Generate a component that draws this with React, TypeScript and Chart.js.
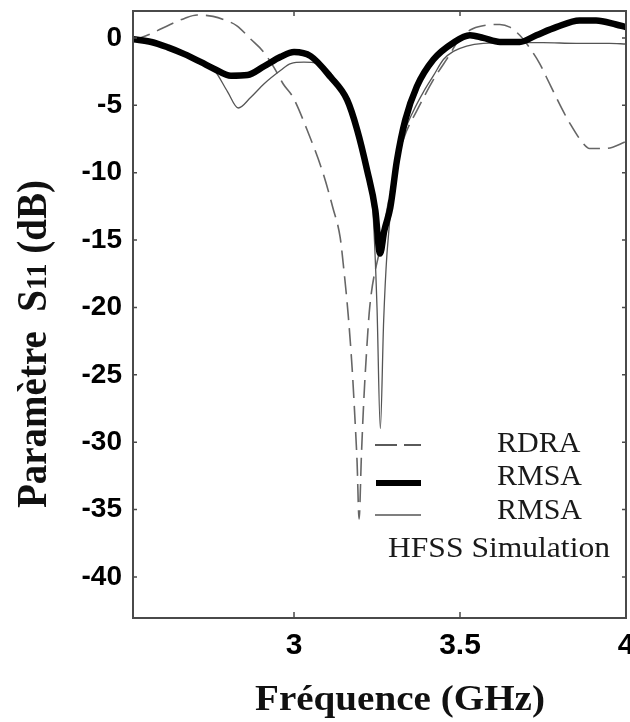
import React, { useEffect, useRef } from "react";
import { Chart, registerables } from "chart.js";

Chart.register(...registerables);

// ---- Data ----
const rmsaFreq = [2.515, 2.57, 2.62, 2.67, 2.72, 2.76, 2.81, 2.86, 2.91, 2.96, 3.0, 3.05, 3.11, 3.16, 3.19, 3.22, 3.245, 3.259, 3.272, 3.29, 3.31, 3.335, 3.37, 3.42, 3.48, 3.53, 3.57, 3.62, 3.68, 3.73, 3.79, 3.86, 3.91, 3.97, 4.0];
const rmsaS11 = [-0.1, -0.3, -0.7, -1.2, -1.8, -2.3, -2.8, -2.75, -2.1, -1.4, -1.05, -1.35, -2.9, -4.6, -6.8, -9.8, -12.8, -16.0, -14.3, -12.6, -9.1, -6.1, -3.6, -1.6, -0.35, 0.2, 0.0, -0.3, -0.3, 0.2, 0.8, 1.3, 1.3, 1.0, 0.8];

const hfssFreq = [2.515, 2.57, 2.62, 2.67, 2.72, 2.76, 2.8, 2.832, 2.87, 2.91, 2.96, 2.99, 3.03, 3.07, 3.11, 3.15, 3.19, 3.22, 3.238, 3.25, 3.26, 3.27, 3.28, 3.3, 3.33, 3.36, 3.39, 3.42, 3.45, 3.48, 3.52, 3.57, 3.65, 3.75, 3.85, 3.95, 4.0];
const hfssS11 = [-0.1, -0.3, -0.7, -1.2, -1.8, -2.4, -4.0, -5.2, -4.4, -3.4, -2.4, -1.9, -1.8, -1.9, -2.6, -4.2, -6.8, -9.8, -13, -20, -29, -21, -16, -11, -7.2, -5.4, -4.0, -2.8, -1.6, -1.0, -0.6, -0.4, -0.35, -0.35, -0.4, -0.4, -0.45];

const rdraFreq = [2.515, 2.572, 2.627, 2.67, 2.708, 2.756, 2.79, 2.828, 2.87, 2.907, 2.94, 2.967, 2.997, 3.039, 3.087, 3.117, 3.139, 3.148, 3.163, 3.175, 3.183, 3.19, 3.196, 3.203, 3.21, 3.218, 3.228, 3.26, 3.29, 3.33, 3.37, 3.42, 3.47, 3.5, 3.54, 3.58, 3.62, 3.65, 3.68, 3.7, 3.74, 3.76, 3.81, 3.83, 3.87, 3.89, 3.94, 4.0];
const rdraS11 = [-0.2, 0.35, 1.0, 1.45, 1.7, 1.6, 1.35, 0.9, -0.1, -1.0, -2.2, -3.4, -4.4, -6.8, -10, -12.6, -14.8, -16.7, -20.5, -24.5, -28, -31.5, -35.7, -31, -27, -23.5, -20, -15.5, -11.5, -7.5, -5.4, -3.1, -1.2, 0.0, 0.7, 0.95, 1.0, 0.8, 0.2, -0.4, -1.9, -2.9, -5.4, -6.3, -7.8, -8.2, -8.2, -7.7];

const xTicks = [3, 3.5, 4];
const yTicks = [0, -5, -10, -15, -20, -25, -30, -35, -40];
const legendLabels = ["RDRA", "RMSA", "RMSA"];
const legendNote = "HFSS Simulation";
const xTitle = "Fréquence (GHz)";
const yTitleParts = ["Paramètre  S", "11", " (dB)"];

const pts = (xs: number[], ys: number[]) => xs.map((x, i) => ({ x, y: ys[i] }));

export default function App() {
  const ref = useRef<HTMLCanvasElement>(null);

  useEffect(() => {
    const canvas = ref.current!;

    const decor = {
      id: "decor",
      afterDatasetsDraw(chart: any) {
        const ctx = chart.ctx as CanvasRenderingContext2D;
        const a = chart.chartArea;
        const xs = chart.scales.x;
        const ys = chart.scales.y;
        ctx.save();
        ctx.strokeStyle = "#4a4a4a";
        ctx.lineWidth = 2;
        ctx.strokeRect(a.left, a.top, a.right - a.left, a.bottom - a.top);
        ctx.lineWidth = 1.5;
        ctx.beginPath();
        yTicks.forEach((v) => {
          const p = ys.getPixelForValue(v);
          ctx.moveTo(a.left, p);
          ctx.lineTo(a.left + 4, p);
          ctx.moveTo(a.right, p);
          ctx.lineTo(a.right - 4, p);
        });
        xTicks.forEach((v) => {
          const p = xs.getPixelForValue(v);
          ctx.moveTo(p, a.bottom);
          ctx.lineTo(p, a.bottom - 6);
          ctx.moveTo(p, a.top);
          ctx.lineTo(p, a.top + 5);
        });
        ctx.stroke();

        // legend
        const lx0 = a.right - 251;
        const lx1 = a.right - 205;
        const rows = [a.bottom - 173, a.bottom - 135, a.bottom - 103];
        ctx.strokeStyle = "#5a5a5a";
        ctx.lineWidth = 2;
        ctx.setLineDash([22, 7]);
        ctx.beginPath();
        ctx.moveTo(lx0, rows[0]);
        ctx.lineTo(lx1, rows[0]);
        ctx.stroke();
        ctx.setLineDash([]);
        ctx.strokeStyle = "#000";
        ctx.lineWidth = 6;
        ctx.beginPath();
        ctx.moveTo(lx0 + 1, rows[1]);
        ctx.lineTo(lx1, rows[1]);
        ctx.stroke();
        ctx.strokeStyle = "#555";
        ctx.lineWidth = 1.5;
        ctx.beginPath();
        ctx.moveTo(lx0, rows[2]);
        ctx.lineTo(lx1, rows[2]);
        ctx.stroke();

        ctx.fillStyle = "#1a1a1a";
        ctx.font = "30px 'Liberation Serif'";
        ctx.textAlign = "left";
        ctx.textBaseline = "alphabetic";
        const bases = [a.bottom - 166, a.bottom - 133, a.bottom - 99];
        legendLabels.forEach((t, i) => ctx.fillText(t, a.right - 129, bases[i]));
        ctx.save();
        ctx.translate(a.right - 238, a.bottom - 61);
        const nw = ctx.measureText(legendNote).width;
        ctx.scale(222 / nw, 1);
        ctx.fillText(legendNote, 0, 0);
        ctx.restore();
        ctx.restore();
      },
      afterDraw(chart: any) {
        const ctx = chart.ctx as CanvasRenderingContext2D;
        ctx.save();
        ctx.fillStyle = "#111";
        ctx.textBaseline = "alphabetic";
        ctx.font = "bold 35px 'Liberation Serif'";
        const xw = ctx.measureText(xTitle).width;
        ctx.save();
        ctx.translate(400, 710);
        ctx.scale(290 / xw, 1);
        ctx.textAlign = "center";
        ctx.fillText(xTitle, 0, 0);
        ctx.restore();

        const big = "bold 36px 'Liberation Serif'";
        const small = "bold 26px 'Liberation Serif'";
        ctx.font = big;
        const w0 = ctx.measureText(yTitleParts[0]).width;
        const w2 = ctx.measureText(yTitleParts[2]).width;
        ctx.font = small;
        const w1 = ctx.measureText(yTitleParts[1]).width;
        const total = w0 + w1 + w2;
        ctx.save();
        ctx.translate(46, 344);
        ctx.rotate(-Math.PI / 2);
        ctx.scale(328 / total, 1.15);
        ctx.textAlign = "left";
        let cx = -total / 2;
        ctx.font = big;
        ctx.fillText(yTitleParts[0], cx, 0);
        cx += w0;
        ctx.font = small;
        ctx.fillText(yTitleParts[1], cx, 0);
        cx += w1;
        ctx.font = big;
        ctx.fillText(yTitleParts[2], cx, 0);
        ctx.restore();
        ctx.restore();
      },
    };

    const chart = new Chart(canvas, {
      type: "line",
      data: {
        datasets: [
          {
            label: "RMSA",
            data: pts(rmsaFreq, rmsaS11),
            borderColor: "#000",
            borderWidth: 6.5,
            pointRadius: 0,
            cubicInterpolationMode: "monotone",
            borderJoinStyle: "round",
            borderCapStyle: "round",
          },
          {
            label: "RMSA HFSS",
            data: pts(hfssFreq, hfssS11),
            borderColor: "#555",
            borderWidth: 1.3,
            pointRadius: 0,
            cubicInterpolationMode: "monotone",
          },
          {
            label: "RDRA",
            data: pts(rdraFreq, rdraS11),
            borderColor: "#666",
            borderWidth: 1.6,
            borderDash: [18, 8],
            pointRadius: 0,
            cubicInterpolationMode: "monotone",
          },
        ],
      },
      options: {
        responsive: false,
        animation: false,
        devicePixelRatio: 1,
        layout: { padding: { left: 0, right: 4, top: 11, bottom: 0 } },
        plugins: { legend: { display: false }, tooltip: { enabled: false } },
        scales: {
          x: {
            type: "linear",
            min: 2.515,
            max: 4.0,
            grid: { display: false, drawTicks: false },
            border: { display: false },
            afterBuildTicks: (s: any) => {
              s.ticks = xTicks.map((v) => ({ value: v }));
            },
            afterFit: (s: any) => {
              s.height = 104;
              s.paddingLeft = 0;
              s.paddingRight = 0;
            },
            ticks: {
              maxRotation: 0,
              autoSkip: false,
              padding: 10,
              color: "#000",
              font: { family: "'Liberation Sans'", size: 30, weight: "bold" },
              callback: (v: any) => String(v),
            },
          },
          y: {
            type: "linear",
            min: -43.05,
            max: 2.0,
            grid: { display: false, drawTicks: false },
            border: { display: false },
            afterBuildTicks: (s: any) => {
              s.ticks = yTicks.map((v) => ({ value: v }));
            },
            afterFit: (s: any) => {
              s.width = 133;
              s.paddingTop = 0;
              s.paddingBottom = 0;
            },
            ticks: {
              autoSkip: false,
              padding: 11,
              color: "#000",
              font: { family: "'Liberation Sans'", size: 28, weight: "bold" },
              callback: (v: any) => String(v),
            },
          },
        },
      },
      plugins: [decor],
    } as any);

    return () => chart.destroy();
  }, []);

  return (
    <div style={{ position: "absolute", left: 0, top: 0, width: 630, height: 722, background: "#fff" }}>
      <canvas ref={ref} width={630} height={722} style={{ display: "block" }} />
    </div>
  );
}
